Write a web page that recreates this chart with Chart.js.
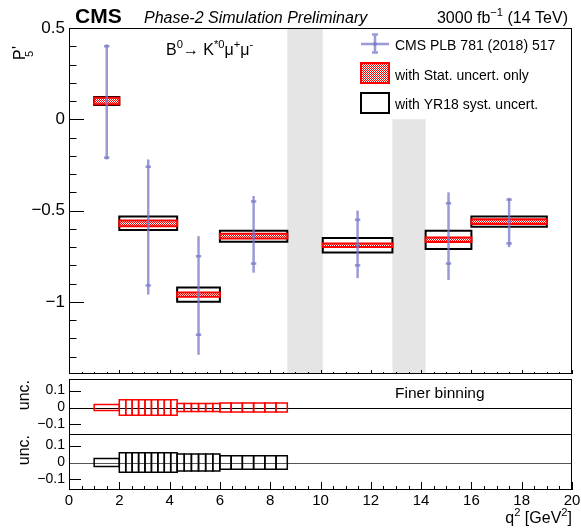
<!DOCTYPE html>
<html><head><meta charset="utf-8">
<script src="https://cdn.jsdelivr.net/npm/chart.js@4.4.1/dist/chart.umd.min.js"></script>
<style>
html,body{margin:0;padding:0;background:#fff;}
#wrap{position:relative;width:581px;height:531px;overflow:hidden;background:#fff;}
canvas{position:absolute;left:0;top:0;}
</style></head><body>
<div id="wrap">
<canvas id="cMain" width="581" height="531"></canvas>
<canvas id="cStat" width="581" height="531"></canvas>
<canvas id="cSyst" width="581" height="531"></canvas>
</div>
<script>
// ---------------- data ----------------
const binLow  = [1, 2, 4.3, 6, 10.09, 14.18, 16];
const binHigh = [2, 4.3, 6, 8.68, 12.86, 16, 19];
const p5Values    = [0.10, -0.57, -0.96, -0.64, -0.69, -0.66, -0.56];
const cmsStatUp   = [0.30, 0.31, 0.21, 0.19, 0.14, 0.20, 0.12];
const cmsStatDown = [0.31, 0.34, 0.22, 0.15, 0.11, 0.13, 0.12];
const cmsTotUp    = [0.31, 0.35, 0.32, 0.22, 0.19, 0.26, 0.13];
const cmsTotDown  = [0.32, 0.39, 0.33, 0.20, 0.18, 0.22, 0.14];
const projStat = [0.018, 0.016, 0.012, 0.013, 0.010, 0.012, 0.013];
const projSyst = [0.022, 0.037, 0.039, 0.030, 0.040, 0.050, 0.028];
const vetoLow  = [8.68, 12.86];
const vetoHigh = [10.09, 14.18];
const vetoTop  = [0.5, 0];
const fineEdges = [1, 2, 2.256, 2.511, 2.767, 3.022, 3.278, 3.533, 3.789, 4.044, 4.3,
                   4.583, 4.867, 5.15, 5.433, 5.717, 6, 6.447, 6.893, 7.34, 7.787, 8.233, 8.68];
const fineStat = [0.017, 0.045, 0.045, 0.045, 0.045, 0.045, 0.045, 0.045, 0.045, 0.045,
                  0.024, 0.024, 0.024, 0.024, 0.024, 0.024, 0.027, 0.027, 0.027, 0.027, 0.027, 0.027];
const fineSyst = [0.023, 0.058, 0.058, 0.058, 0.058, 0.058, 0.058, 0.058, 0.058, 0.058,
                  0.050, 0.050, 0.050, 0.050, 0.050, 0.050, 0.040, 0.040, 0.040, 0.040, 0.040, 0.040];
const mainYTicks = [0.5, 0, -0.5, -1];
const uncYTicks  = [0.1, 0, -0.1];
const xTickLabels = [0, 2, 4, 6, 8, 10, 12, 14, 16, 18, 20];
const legendLabels = ['CMS PLB 781 (2018) 517', 'with Stat. uncert. only', 'with YR18 syst. uncert.'];

// ---------------- style / layout ----------------
const X_MIN = 0, X_MAX = 20;
const MAIN_Y_MIN = -1.395, MAIN_Y_MAX = 0.5;
const UNC_Y_MIN = -0.162, UNC_Y_MAX = 0.168;
const FONT = "'Liberation Sans', Arial, Helvetica, sans-serif";
const LAV = 'rgba(120,120,200,0.75)';
const W = 581, H = 531, LEFT = 69, RIGHT_PAD = 9, XAX_H = 30;

function fmt(v){ if (Math.abs(v) < 1e-9) return '0'; return String(v).replace('-', '\u2212'); }
function rect(x1, x2, y1, y2){ return [{x:x1,y:y1},{x:x2,y:y1},{x:x2,y:y2},{x:x1,y:y2},{x:x1,y:y1}]; }

function makePattern(ctx){
  const c = document.createElement('canvas'); c.width = 2; c.height = 2;
  const g = c.getContext('2d');
  g.fillStyle = '#ffffff'; g.fillRect(0,0,2,2);
  g.fillStyle = '#ff0000'; g.fillRect(0,0,1,1); g.fillRect(1,1,1,1);
  return ctx.createPattern(c, 'repeat');
}

function rich(ctx, x, y, segs, size, align, weight, style){
  const f = (m) => `${style||'normal'} ${weight||'normal'} ${m ? size*0.7 : size}px ${FONT}`;
  let w = 0;
  segs.forEach(([t,m]) => { ctx.font = f(m); w += ctx.measureText(t).width; });
  let cx = align === 'right' ? x - w : (align === 'center' ? x - w/2 : x);
  ctx.textAlign = 'left'; ctx.textBaseline = 'alphabetic';
  segs.forEach(([t,m]) => {
    ctx.font = f(m);
    const dy = m === 1 ? -size*0.42 : (m === -1 ? size*0.28 : 0);
    ctx.fillText(t, cx, y + dy);
    cx += ctx.measureText(t).width;
  });
}

function yAxis(min, max, ticks, size){
  return {
    type:'linear', position:'left', min, max,
    grid:{display:false, drawTicks:false}, border:{display:false},
    ticks:{font:{family:FONT, size}, color:'#000', padding:4, autoSkip:false, callback:(v)=>fmt(v)},
    afterBuildTicks:(s)=>{ s.ticks = ticks.map(v=>({value:v})); },
    afterFit:(s)=>{ s.width = LEFT; s.paddingTop = 0; s.paddingBottom = 0; }
  };
}
function xAxis(show){
  return {
    type:'linear', position:'bottom', min:X_MIN, max:X_MAX, display: show,
    grid:{display:false, drawTicks:false}, border:{display:false},
    ticks:{font:{family:FONT, size:15}, color:'#000', padding:2, autoSkip:false, maxRotation:0, callback:(v)=>fmt(v)},
    afterBuildTicks:(s)=>{ s.ticks = xTickLabels.map(v=>({value:v})); },
    afterFit:(s)=>{ s.height = show ? XAX_H : 0; s.paddingLeft = 0; s.paddingRight = 0; }
  };
}

function drawFrame(chart, o){
  const ctx = chart.ctx, a = chart.chartArea, xs = chart.scales.x, ys = chart.scales.y;
  ctx.save();
  ctx.strokeStyle = '#000'; ctx.lineWidth = 1;
  ctx.beginPath();
  o.yMajor.forEach(v => { const p = Math.round(ys.getPixelForValue(v)) + 0.5; ctx.moveTo(a.left, p); ctx.lineTo(a.left + o.yMajLen, p); });
  (o.yMinor||[]).forEach(v => { const p = Math.round(ys.getPixelForValue(v)) + 0.5; ctx.moveTo(a.left, p); ctx.lineTo(a.left + o.yMinLen, p); });
  for (let k = 0; k <= 40; k++) {
    const v = k * 0.5; const p = Math.round(xs.getPixelForValue(v)) + 0.5;
    const len = (k % 4 === 0) ? o.xMajLen : o.xMinLen;
    if (len > 0) { ctx.moveTo(p, a.bottom); ctx.lineTo(p, a.bottom - len); }
  }
  ctx.stroke();
  ctx.strokeRect(Math.round(a.left)+0.5, Math.round(a.top)+0.5, Math.round(a.right - a.left)-1, Math.round(a.bottom - a.top)-1);
  ctx.restore();
}

// ---------------- main panel ----------------
const cMain = document.getElementById('cMain');
const mctx = cMain.getContext('2d');
const redPattern = makePattern(mctx);

const mainDatasets = [];
vetoLow.forEach((lo,i) => mainDatasets.push({
  type:'line', data: rect(lo, vetoHigh[i], MAIN_Y_MIN, vetoTop[i]), borderWidth:0, borderColor:'rgba(0,0,0,0)',
  backgroundColor:'#e5e5e5', fill:'shape', pointRadius:0, tension:0, order:10
}));
binLow.forEach((lo,i) => mainDatasets.push({
  type:'line', data: rect(lo, binHigh[i], p5Values[i]-projSyst[i], p5Values[i]+projSyst[i]),
  borderColor:'#000', borderWidth:2, borderCapStyle:'square', backgroundColor:'#ffffff', fill:'shape', pointRadius:0, tension:0, order:8
}));
binLow.forEach((lo,i) => mainDatasets.push({
  type:'line', data: rect(lo, binHigh[i], p5Values[i]-projStat[i], p5Values[i]+projStat[i]),
  borderColor:'#ff0000', borderWidth:2, borderCapStyle:'square', backgroundColor:redPattern, fill:'shape', pointRadius:0, tension:0, order:6
}));
binLow.forEach((lo,i) => { const xc = (lo + binHigh[i]) / 2; mainDatasets.push({
  type:'line', data:[{x:xc, y:p5Values[i]-cmsTotDown[i]}, {x:xc, y:p5Values[i]+cmsTotUp[i]}],
  borderColor:LAV, borderWidth:2.5, pointRadius:0, tension:0, fill:false, order:3
}); });
const capPts = [], ctrPts = [];
binLow.forEach((lo,i) => { const xc = (lo + binHigh[i]) / 2;
  capPts.push({x:xc, y:p5Values[i]-cmsStatDown[i]}); capPts.push({x:xc, y:p5Values[i]+cmsStatUp[i]});
  ctrPts.push({x:xc, y:p5Values[i]});
});
mainDatasets.push({type:'line', showLine:false, data:capPts, pointStyle:'line', pointRadius:2.7, pointBorderWidth:2.5, pointBorderColor:LAV, fill:false, order:2});
mainDatasets.push({type:'line', showLine:false, data:ctrPts, pointStyle:'circle', pointRadius:1.8, pointBorderWidth:0, pointBackgroundColor:LAV, fill:false, order:1});

const mainMinor = []; for (let k = -13; k <= 5; k++) mainMinor.push(k/10);

new Chart(cMain, {
  type:'line',
  data:{datasets: mainDatasets},
  options:{
    responsive:false, animation:false, events:[], devicePixelRatio:1,
    layout:{padding:{left:0, right:RIGHT_PAD, top:28, bottom:H-374}},
    scales:{ x: xAxis(false), y: yAxis(MAIN_Y_MIN, MAIN_Y_MAX, mainYTicks, 17) },
    plugins:{legend:{display:false}, tooltip:{enabled:false}}
  },
  plugins:[{
    id:'mainDeco',
    afterDatasetsDraw(chart){
      drawFrame(chart, {yMajor:mainYTicks, yMinor:mainMinor, yMajLen:15, yMinLen:7.5, xMajLen:4, xMinLen:2});
    },
    afterDraw(chart){
      const ctx = chart.ctx;
      ctx.save(); ctx.fillStyle = '#000';
      rich(ctx, 75, 23, [['CMS',0]], 21, 'left', 'bold');
      rich(ctx, 144, 23, [['Phase-2 Simulation Preliminary',0]], 16, 'left', 'normal', 'italic');
      rich(ctx, 568, 23, [['3000 fb',0],['\u22121',1],[' (14 TeV)',0]], 16, 'right');
      rich(ctx, 166, 55, [['B',0],['0',1],['\u2192 K',0],['*0',1],['\u03bc',0],['+',1],['\u03bc',0],['-',1]], 16, 'left');
      ctx.save(); ctx.translate(25, 60); ctx.rotate(-Math.PI/2);
      ctx.font = `16px ${FONT}`; ctx.textAlign = 'left'; ctx.textBaseline = 'alphabetic';
      ctx.fillText('P', 0, 0);
      ctx.fillText("'", 11, -1);
      ctx.font = `11px ${FONT}`; ctx.fillText('5', 3, 8);
      ctx.restore();
      const lx1 = 361, lx2 = 389, lxm = 375;
      ctx.strokeStyle = LAV; ctx.lineWidth = 2.5;
      ctx.beginPath(); ctx.moveTo(lx1, 44); ctx.lineTo(lx2, 44); ctx.moveTo(lxm, 34); ctx.lineTo(lxm, 53);
      ctx.moveTo(lxm-3, 34.5); ctx.lineTo(lxm+3, 34.5); ctx.moveTo(lxm-3, 52.5); ctx.lineTo(lxm+3, 52.5); ctx.stroke();
      ctx.fillStyle = LAV; ctx.beginPath(); ctx.arc(lxm, 44, 2, 0, Math.PI*2); ctx.fill();
      ctx.fillStyle = redPattern; ctx.fillRect(lx1, 63, lx2-lx1, 20);
      ctx.strokeStyle = '#ff0000'; ctx.lineWidth = 2; ctx.strokeRect(lx1, 63, lx2-lx1, 20);
      ctx.fillStyle = '#fff'; ctx.fillRect(lx1, 93, lx2-lx1, 20);
      ctx.strokeStyle = '#000'; ctx.lineWidth = 2; ctx.strokeRect(lx1, 93, lx2-lx1, 20);
      ctx.fillStyle = '#000';
      ctx.font = `14px ${FONT}`; ctx.textAlign = 'left'; ctx.textBaseline = 'alphabetic';
      ctx.fillText(legendLabels[0], 395, 50);
      ctx.fillText(legendLabels[1], 395, 79.5);
      ctx.fillText(legendLabels[2], 395, 109);
      ctx.restore();
    }
  }]
});

// ---------------- ratio panels ----------------
function finePanel(canvasId, values, color, top, bottom, showX, zeroColor, extra){
  const ds = [];
  for (let i = 0; i < values.length; i++) {
    ds.push({type:'line', data: rect(fineEdges[i], fineEdges[i+1], -values[i], values[i]),
      borderColor:color, borderWidth:1.5, borderCapStyle:'square', fill:false, pointRadius:0, tension:0, order:2});
  }
  new Chart(document.getElementById(canvasId), {
    type:'line',
    data:{datasets: ds},
    options:{
      responsive:false, animation:false, events:[], devicePixelRatio:1,
      layout:{padding:{left:0, right:RIGHT_PAD, top:top, bottom: showX ? H-bottom-XAX_H : H-bottom}},
      scales:{ x: xAxis(showX), y: yAxis(UNC_Y_MIN, UNC_Y_MAX, uncYTicks, 14) },
      plugins:{legend:{display:false}, tooltip:{enabled:false}}
    },
    plugins:[{
      id:'fineDeco'+canvasId,
      beforeDatasetsDraw(chart){
        const ctx = chart.ctx, a = chart.chartArea, ys = chart.scales.y;
        const p = Math.round(ys.getPixelForValue(0)) + 0.5;
        ctx.save(); ctx.strokeStyle = zeroColor; ctx.lineWidth = 1;
        ctx.beginPath(); ctx.moveTo(a.left, p); ctx.lineTo(a.right, p); ctx.stroke(); ctx.restore();
      },
      afterDatasetsDraw(chart){
        drawFrame(chart, {yMajor:[0.1, -0.1], yMinor:[], yMajLen:12, yMinLen:0,
          xMajLen: showX ? 8 : 0, xMinLen: showX ? 4 : 0});
      },
      afterDraw(chart){
        const ctx = chart.ctx, a = chart.chartArea;
        ctx.save(); ctx.fillStyle = '#000';
        ctx.translate(29, a.top + 1); ctx.rotate(-Math.PI/2);
        ctx.font = `16px ${FONT}`; ctx.textAlign = 'right'; ctx.textBaseline = 'alphabetic';
        ctx.fillText('unc.', 0, 0);
        ctx.restore();
        if (extra) extra(chart);
      }
    }]
  });
}

finePanel('cStat', fineStat, '#ff0000', 379, 435, false, '#000', (chart) => {
  const ctx = chart.ctx; ctx.save(); ctx.fillStyle = '#000';
  rich(ctx, 395, 398, [['Finer binning',0]], 15.5, 'left'); ctx.restore();
});
finePanel('cSyst', fineSyst, '#000000', 434, 490, true, '#555', (chart) => {
  const ctx = chart.ctx; ctx.save(); ctx.fillStyle = '#000';
  rich(ctx, 572, 523, [['q',0],['2',1],[' [GeV',0],['2',1],[']',0]], 16, 'right'); ctx.restore();
});
</script>
</body></html>
